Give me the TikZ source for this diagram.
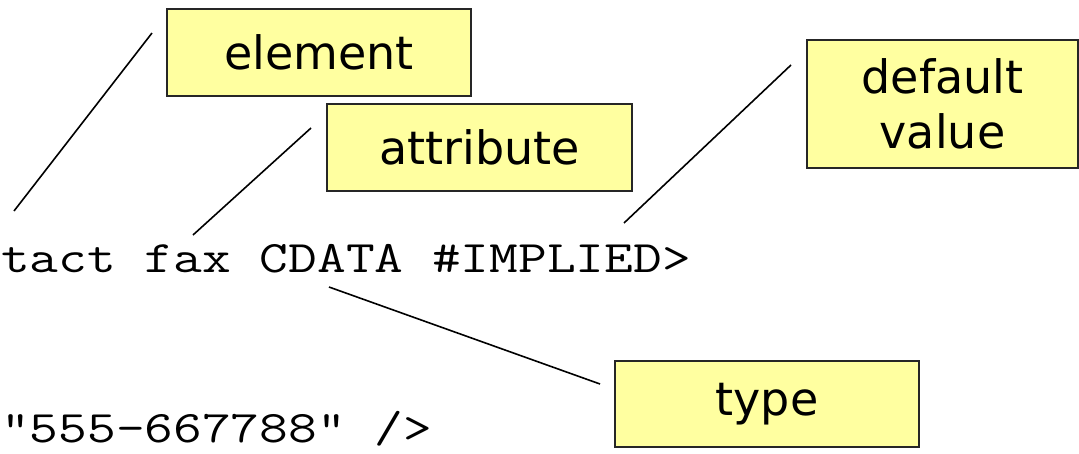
\documentclass[tikz,border=0pt]{standalone}
\usepackage{graphicx}
\usepackage{fontspec}
\setmainfont{DejaVu Sans}
\definecolor{boxfill}{RGB}{255,255,160}
\begin{document}
\begin{tikzpicture}[x=1pt,y=-1pt,
  lbl/.style={draw=black!85,line width=1.6pt,fill=boxfill,inner sep=0pt,
    font=\fontsize{46}{55}\selectfont,align=center},
  code/.style={font=\ttfamily\fontsize{45}{50}\selectfont,anchor=base west,inner sep=0pt},
  conn/.style={line width=1.6pt}]
\useasboundingbox (0,0) rectangle (1079,453);
\node[lbl,minimum width=304pt,minimum height=87pt] (element) at (319,52.5) {element};
\node[lbl,minimum width=305pt,minimum height=87pt] (attribute) at (479.5,147.5) {attribute};
\node[lbl,minimum width=271pt,minimum height=128pt] (default) at (942.5,104) {default\\value};
\node[lbl,minimum width=304pt,minimum height=86pt] (type) at (767,404) {type};
\node[code] (line1) at (1,272) {\scalebox{1.24}[1]{tact fax CDATA \#IMPLIED>}};
\node[code] (line2) at (1,442) {\scalebox{1.24}[1]{"555-667788" />}};
\coordinate (e1) at (152,33); \coordinate (e2) at (14,211);
\coordinate (a1) at (311,128); \coordinate (a2) at (193,235);
\coordinate (d1) at (791,65); \coordinate (d2) at (624,223);
\coordinate (t1) at (329,287); \coordinate (t2) at (600,384);
\draw[conn] (e1) -- (e2);
\draw[conn] (a1) -- (a2);
\draw[conn] (d1) -- (d2);
\draw[conn] (t1) -- (t2);
\end{tikzpicture}
\end{document}
